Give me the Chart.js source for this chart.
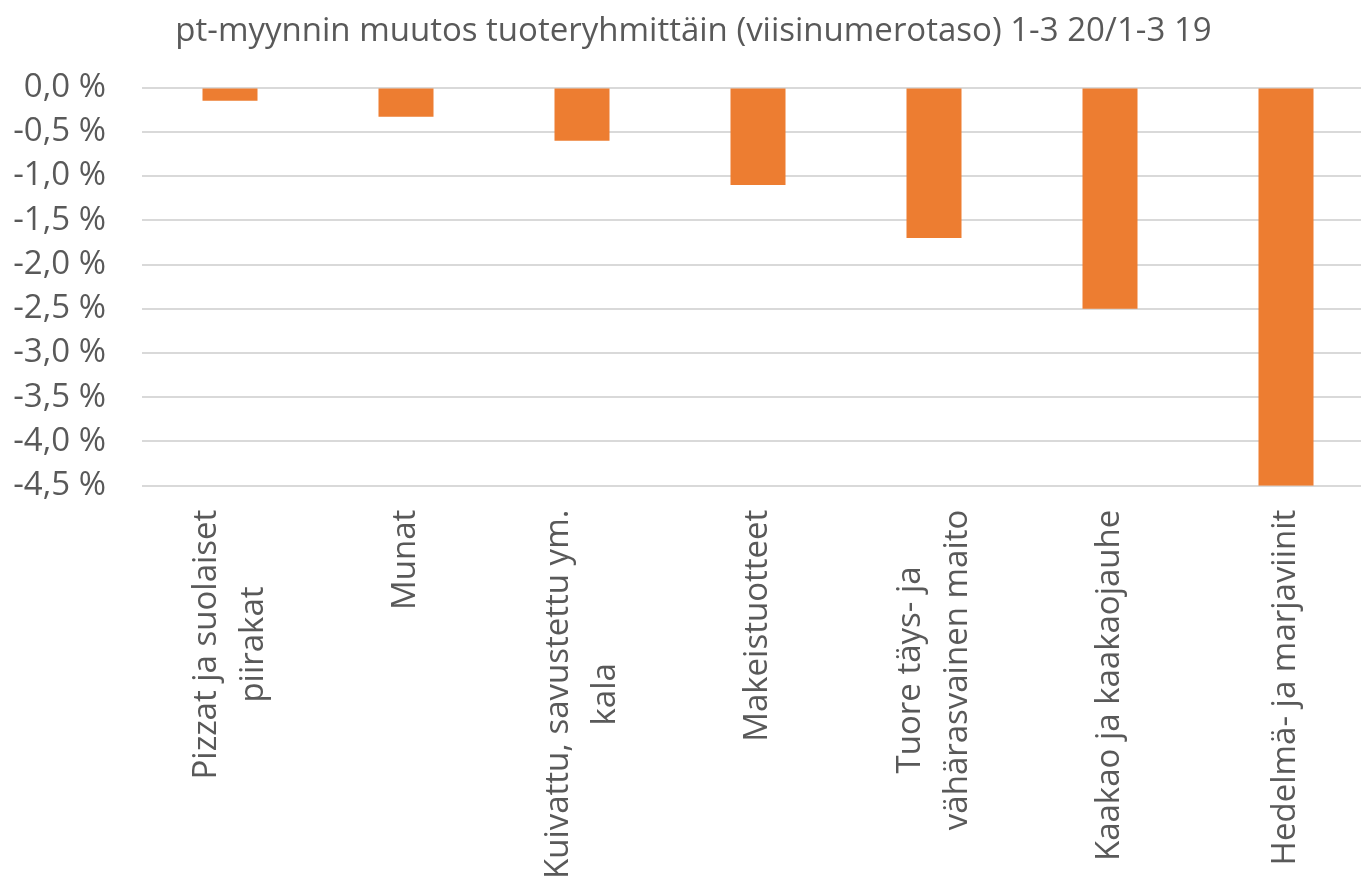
<!DOCTYPE html>
<html><head><meta charset="utf-8">
<script src="https://cdn.jsdelivr.net/npm/chart.js@4/dist/chart.umd.min.js"></script>
<style>html,body{margin:0;padding:0;overflow:hidden;background:#fff;width:1361px;height:877px}canvas{display:block}</style>
</head><body>
<canvas id="c" width="1376" height="903"></canvas>
<script>
const titleText = 'pt-myynnin muutos tuoteryhmittäin (viisinumerotaso) 1-3 20/1-3 19';
const categories = [
  ['Pizzat ja suolaiset', 'piirakat'],
  'Munat',
  ['Kuivattu, savustettu ym.', 'kala'],
  'Makeistuotteet',
  ['Tuore täys- ja', 'vähärasvainen maito'],
  'Kaakao ja kaakaojauhe',
  'Hedelmä- ja marjaviinit'
];
const changePct = [-0.15, -0.33, -0.6, -1.1, -1.7, -2.5, -4.5];
const yMin = -4.5, yMax = 0, yStep = 0.5;

const FONT = "'Open Sans', 'Noto Sans', sans-serif";
Chart.defaults.font.family = FONT;
Chart.defaults.color = '#595959';

// Center multi-line rotated category labels (as in the spreadsheet original)
const centerLabels = {
  id: 'centerLabels',
  beforeDraw(chart) {
    const scale = chart.scales.x;
    const items = scale.getLabelItems(chart.chartArea);
    const ctx = chart.ctx;
    items.forEach(it => {
      if (!Array.isArray(it.label) || it._centered) return;
      ctx.save();
      ctx.font = it.font.string;
      const maxW = Math.max(...it.label.map(l => ctx.measureText(l).width));
      ctx.restore();
      const lh = it.font.lineHeight;
      it.options.textAlign = 'center';
      it.options.translation[1] += maxW / 2;
      it.options.translation[0] -= (it.label.length - 1) * lh / 2;
      it._centered = true;
    });
  }
};

new Chart(document.getElementById('c'), {
  type: 'bar',
  data: { labels: categories, datasets: [{ data: changePct, backgroundColor: '#ED7D31', barPercentage: 0.3125, categoryPercentage: 1 }] },
  options: {
    responsive: false, animation: false, devicePixelRatio: 1,
    layout: { padding: { left: 13, right: 2, top: 12, bottom: 0 } },
    plugins: {
      legend: { display: false }, tooltip: { enabled: false },
      title: { display: true, text: titleText, font: { size: 33, weight: 'normal' }, color: '#595959', padding: { top: 0, bottom: 36 } }
    },
    scales: {
      x: {
        grid: { display: false, drawTicks: false },
        border: { display: false },
        afterFit: s => { s.paddingLeft = 0; s.paddingRight = 0; },
        ticks: { maxRotation: 90, minRotation: 90, font: { size: 33, lineHeight: 1.42 }, color: '#595959', padding: 24, autoSkip: false }
      },
      y: {
        min: yMin, max: yMax,
        grid: { color: '#d9d9d9', lineWidth: 2, drawTicks: false },
        border: { display: false },
        afterFit: s => { s.width = 129; s.paddingTop = 0; s.paddingBottom = 0; },
        ticks: { stepSize: yStep, autoSkip: false, font: { size: 33 }, color: '#595959', padding: 36,
          callback: v => (Math.abs(v) < 1e-9 ? 0 : v).toFixed(1).replace('.', ',') + ' %' }
      }
    }
  },
  plugins: [centerLabels]
});
</script>
</body></html>
